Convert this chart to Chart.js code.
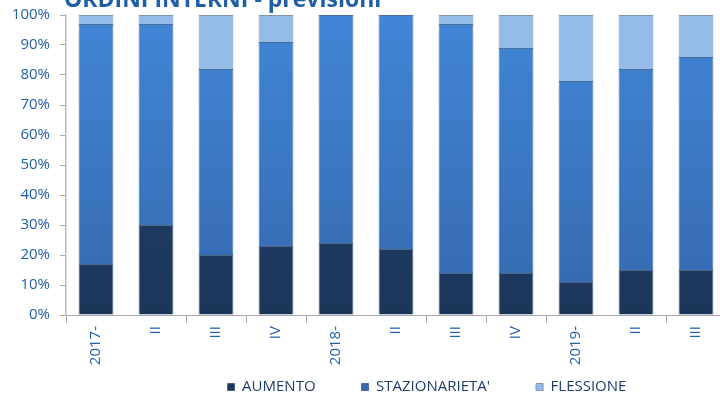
<!DOCTYPE html>
<html><head><meta charset="utf-8">
<script src="https://cdn.jsdelivr.net/npm/chart.js@4"></script>
<style>
html,body{margin:0;padding:0;background:#fff;}
#wrap{position:relative;width:720px;height:396px;overflow:hidden;background:#fff;}
#title{position:absolute;left:64px;top:-13px;font-family:"Open Sans";font-weight:bold;font-size:23px;line-height:23px;color:#1F5FA6;white-space:nowrap;}
#c{position:absolute;left:0;top:0;width:740px;height:446px;}
</style></head><body>
<div id="wrap"><canvas id="c" width="740" height="446"></canvas><div id="title">ORDINI INTERNI - previsioni</div></div>
<script>
const categories = ['2017-','II','III','IV','2018-','II','III','IV','2019-','II','III'];
const aumento = [17,30,20,23,24,22,14,14,11,15,15];
const stazionarieta = [80,67,62,68,76,78,83,75,67,67,71];
const flessione = [3,3,18,9,0,0,3,11,22,18,14];
const yTicks = [0,10,20,30,40,50,60,70,80,90,100];

const tickBlue = '#1F5FA6';
const axisGray = '#A9A9A9';
const hiddenTicks = [1,5,9];

function vGrad(top, bottom, fallback) {
  return (ctx) => {
    const { chart } = ctx;
    const area = chart.chartArea;
    if (!area) return fallback;
    const g = chart.ctx.createLinearGradient(0, area.top, 0, area.bottom);
    g.addColorStop(0, top);
    g.addColorStop(1, bottom);
    return g;
  };
}

// place the legend row where the reference has it
const legendPlace = {
  id: 'legendPlace',
  afterLayout(chart) {
    const l = chart.legend;
    if (l) {
      const h = l.height;
      l.left += 64; l.right += 64;
      l.top = 387 - 46 - 7.5; l.bottom = l.top + h;
    }
  }
};

new Chart(document.getElementById('c'), {
  type: 'bar',
  data: {
    labels: categories,
    datasets: [
      { label: 'AUMENTO', data: aumento, backgroundColor: vGrad('#22426C', '#1C365A', '#1F3A60'), borderColor: '#4F6585', borderWidth: 1 },
      { label: "STAZIONARIETA'", data: stazionarieta, backgroundColor: vGrad('#4186D6', '#3568AD', '#3D7BC8'), borderColor: '#4A6E9C', borderWidth: 1 },
      { label: 'FLESSIONE', data: flessione, backgroundColor: '#95BBE9', borderColor: '#7D93B0', borderWidth: 1 }
    ]
  },
  options: {
    responsive: false,
    animation: false,
    layout: { padding: { left: 0, right: 14, top: 15, bottom: 0 } },
    datasets: { bar: { categoryPercentage: 1, barPercentage: 0.58 } },
    plugins: {
      title: { display: false },
      tooltip: { enabled: false },
      legend: {
        position: 'bottom',
        labels: {
          boxWidth: 7, boxHeight: 7, padding: 46,
          color: '#1F3D6B',
          font: { family: 'Open Sans', size: 15 }
        }
      }
    },
    scales: {
      x: {
        stacked: true,
        grid: {
          display: true, drawOnChartArea: false, offset: true,
          tickLength: 8,
          tickColor: (ctx) => hiddenTicks.includes(ctx.index) ? 'rgba(0,0,0,0)' : axisGray
        },
        border: { display: true, color: axisGray, width: 1 },
        ticks: {
          autoSkip: false, maxRotation: 90, minRotation: 90, padding: 3,
          color: tickBlue, font: { family: 'Open Sans', size: 15 }
        },
        afterFit: (s) => {
          const lh = s.chart.legend ? s.chart.legend.height : 0;
          s.height = Math.max(0, s.chart.height - 315 - lh);
          s.paddingLeft = 0; s.paddingRight = 0;
        }
      },
      y: {
        stacked: true, min: 0, max: 100,
        afterBuildTicks: (s) => { s.ticks = yTicks.map(v => ({ value: v })); },
        grid: { display: true, drawOnChartArea: false, tickLength: 6, tickColor: axisGray },
        border: { display: true, color: '#BDBDBD', width: 1.5 },
        ticks: {
          padding: 10, color: tickBlue, font: { family: 'Open Sans', size: 15 },
          callback: (v) => v + '%'
        },
        afterFit: (s) => { s.width = 66; s.paddingTop = 0; s.paddingBottom = 0; }
      }
    }
  },
  plugins: [legendPlace]
});
</script>
</body></html>
